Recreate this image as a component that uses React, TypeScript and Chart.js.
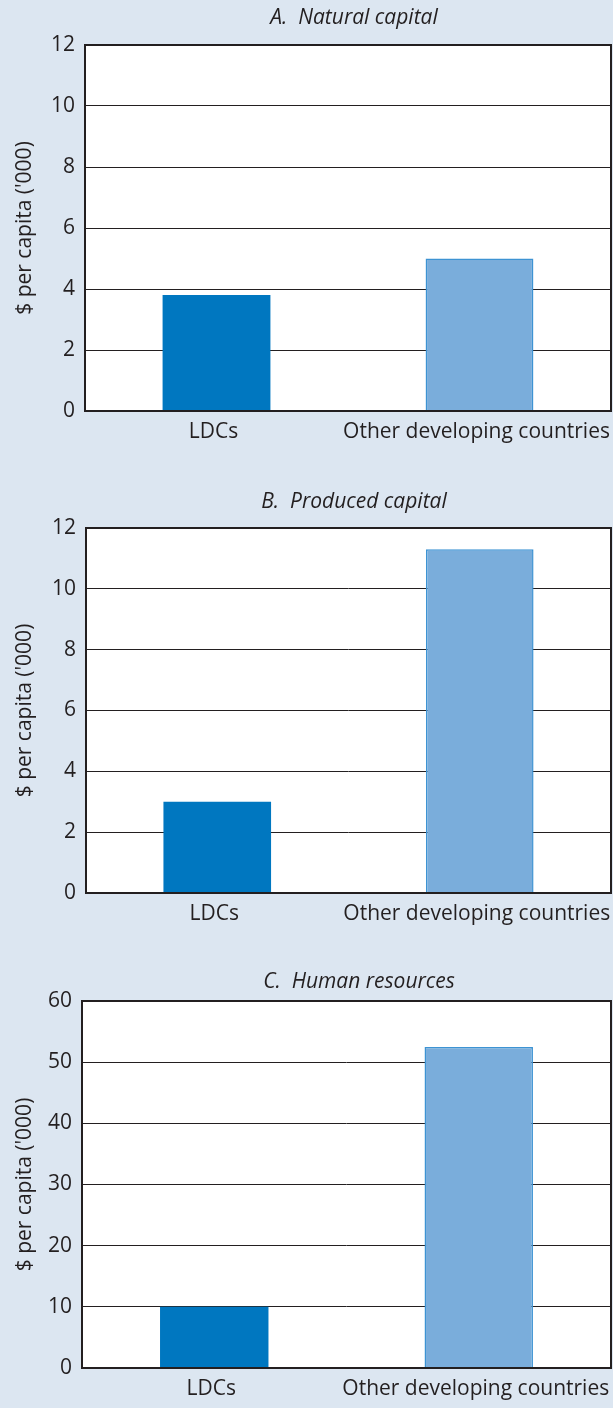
import React, { useEffect, useRef } from "react";
import { Chart, registerables } from "chart.js";
Chart.register(...registerables);

const categories = ["LDCs", "Other developing countries"];
const naturalCapital = [3.8, 5.0];
const producedCapital = [3.0, 11.3];
const humanResources = [10.0, 52.5];
const panelTitles = ["A.  Natural capital", "B.  Produced capital", "C.  Human resources"];
const yMaxes = [12, 12, 60];
const ySteps = [2, 2, 10];
const yAxisTitle = "$ per capita ('000)";

const BG = "#dce6f1";
const INK = "#231f20";
const FONT = "'Open Sans'";

type Layout = { top: number; height: number; plotTop: number; plotBottom: number; plotLeft: number; titleY: number; titleX: number };
const layouts: Layout[] = [
  { top: 0, height: 460, plotTop: 45, plotBottom: 411, plotLeft: 85, titleY: 18, titleX: 354 },
  { top: 470, height: 470, plotTop: 58, plotBottom: 423, plotLeft: 86, titleY: 32, titleX: 354 },
  { top: 945, height: 463, plotTop: 56, plotBottom: 423, plotLeft: 82, titleY: 37, titleX: 359 },
];

function Panel({ values, title, yMax, yStep, layout }: { values: number[]; title: string; yMax: number; yStep: number; layout: Layout }) {
  const ref = useRef<HTMLCanvasElement>(null);
  useEffect(() => {
    if (!ref.current) return;
    const xAxisH = 40;
    const chart = new Chart(ref.current, {
      type: "bar",
      data: {
        labels: categories,
        datasets: [
          {
            data: values,
            backgroundColor: ["#0077c0", "#7aaddb"],
            borderColor: ["#0077c0", "#3d93d3"],
            borderWidth: [0, 1.5],
            barPercentage: 0.41,
            categoryPercentage: 1,
          },
        ],
      },
      options: {
        responsive: false,
        animation: false,
        events: [],
        layout: {
          padding: { top: layout.plotTop, left: 0, right: 2, bottom: layout.height - layout.plotBottom - xAxisH },
        },
        plugins: { legend: { display: false }, tooltip: { enabled: false }, title: { display: false } },
        scales: {
          x: {
            grid: { display: false, drawTicks: false },
            border: { display: false },
            ticks: { color: INK, font: { family: FONT, size: 21 }, padding: 8, labelOffset: -3, maxRotation: 0, autoSkip: false },
            afterFit: (s: any) => {
              s.height = xAxisH;
              s.paddingLeft = 0;
              s.paddingRight = 0;
            },
          },
          y: {
            min: 0,
            max: yMax,
            grid: { color: INK, lineWidth: 1, drawTicks: false },
            border: { display: false },
            ticks: { stepSize: yStep, color: INK, font: { family: FONT, size: 21 }, padding: 10 },
            title: { display: true, text: yAxisTitle, color: INK, font: { family: FONT, size: 21 }, padding: { top: 12, bottom: 0 } },
            afterFit: (s: any) => { s.width = layout.plotLeft; },
          },
        },
      },
      plugins: [
        {
          id: "plotBg",
          beforeDraw(c: any) {
            const { ctx, chartArea } = c;
            ctx.save();
            ctx.fillStyle = "#ffffff";
            ctx.fillRect(chartArea.left, chartArea.top, chartArea.right - chartArea.left, chartArea.bottom - chartArea.top);
            ctx.restore();
          },
        },
        {
          id: "frameTitle",
          afterDraw(c: any) {
            const { ctx, chartArea } = c;
            ctx.save();
            ctx.strokeStyle = INK;
            ctx.lineWidth = 2;
            ctx.strokeRect(chartArea.left, chartArea.top, chartArea.right - chartArea.left, chartArea.bottom - chartArea.top);
            ctx.font = `italic 21px ${FONT}`;
            ctx.fillStyle = INK;
            ctx.textAlign = "center";
            ctx.textBaseline = "middle";
            ctx.fillText(title, layout.titleX, layout.titleY);
            ctx.restore();
          },
        },
      ],
    } as any);
    return () => chart.destroy();
  }, []);
  return (
    <canvas
      ref={ref}
      width={613}
      height={layout.height}
      style={{ position: "absolute", left: 0, top: layout.top, width: 613, height: layout.height }}
    />
  );
}

export default function App() {
  const series = [naturalCapital, producedCapital, humanResources];
  return (
    <div style={{ position: "absolute", left: 0, top: 0, width: 613, height: 1408, background: BG, overflow: "hidden" }}>
      {series.map((v, i) => (
        <Panel key={i} values={v} title={panelTitles[i]} yMax={yMaxes[i]} yStep={ySteps[i]} layout={layouts[i]} />
      ))}
    </div>
  );
}
